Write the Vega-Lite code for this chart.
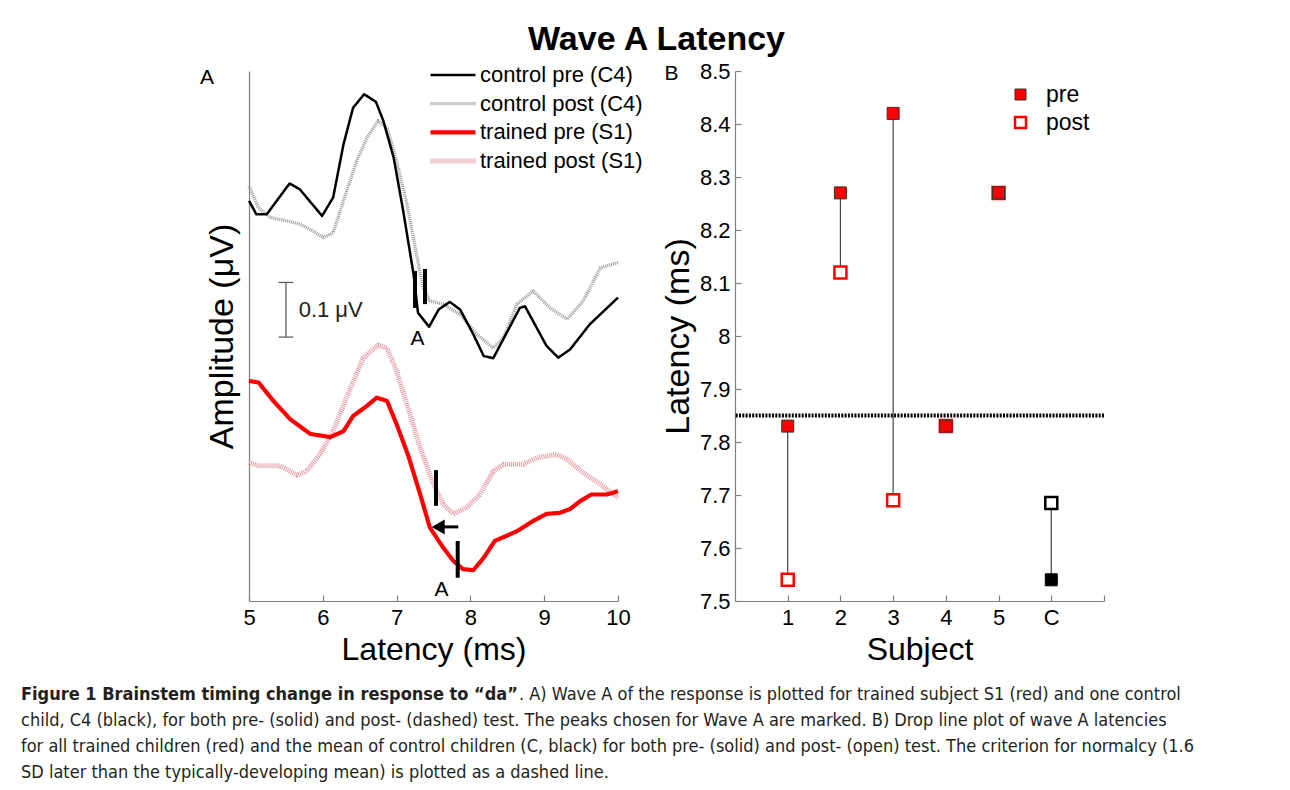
{
  "$schema": "https://vega.github.io/schema/vega-lite/v6.json",
  "background": "white",
  "padding": {"left": 21, "top": 23, "right": 5, "bottom": 5},
  "title": {"text": "Wave A Latency", "fontSize": 34, "fontWeight": "bold", "font": "Liberation Sans", "color": "black", "anchor": "middle", "offset": 3, "dx": 49},
  "columns": 2,
  "align": "none",
  "bounds": "flush",
  "spacing": {"row": 81, "column": 117},
  "resolve": {
    "scale": {"color": "independent", "fill": "independent", "stroke": "independent", "strokeWidth": "independent", "strokeDash": "independent"},
    "legend": {"color": "independent", "fill": "independent", "stroke": "independent", "strokeWidth": "independent", "strokeDash": "independent"}
  },
  "datasets": {
    "waves": [
      {"series": "control post (C4)", "t": 5.00, "amp": 0.767},
      {"series": "control post (C4)", "t": 5.13, "amp": 0.727},
      {"series": "control post (C4)", "t": 5.29, "amp": 0.709},
      {"series": "control post (C4)", "t": 5.51, "amp": 0.703},
      {"series": "control post (C4)", "t": 5.69, "amp": 0.697},
      {"series": "control post (C4)", "t": 5.87, "amp": 0.684},
      {"series": "control post (C4)", "t": 6.01, "amp": 0.672},
      {"series": "control post (C4)", "t": 6.14, "amp": 0.681},
      {"series": "control post (C4)", "t": 6.28, "amp": 0.740},
      {"series": "control post (C4)", "t": 6.46, "amp": 0.814},
      {"series": "control post (C4)", "t": 6.60, "amp": 0.857},
      {"series": "control post (C4)", "t": 6.75, "amp": 0.888},
      {"series": "control post (C4)", "t": 6.87, "amp": 0.875},
      {"series": "control post (C4)", "t": 7.00, "amp": 0.814},
      {"series": "control post (C4)", "t": 7.14, "amp": 0.734},
      {"series": "control post (C4)", "t": 7.27, "amp": 0.641},
      {"series": "control post (C4)", "t": 7.36, "amp": 0.579},
      {"series": "control post (C4)", "t": 7.45, "amp": 0.555},
      {"series": "control post (C4)", "t": 7.63, "amp": 0.549},
      {"series": "control post (C4)", "t": 7.86, "amp": 0.530},
      {"series": "control post (C4)", "t": 8.09, "amp": 0.493},
      {"series": "control post (C4)", "t": 8.31, "amp": 0.468},
      {"series": "control post (C4)", "t": 8.45, "amp": 0.487},
      {"series": "control post (C4)", "t": 8.63, "amp": 0.549},
      {"series": "control post (C4)", "t": 8.85, "amp": 0.573},
      {"series": "control post (C4)", "t": 9.08, "amp": 0.542},
      {"series": "control post (C4)", "t": 9.31, "amp": 0.521},
      {"series": "control post (C4)", "t": 9.53, "amp": 0.555},
      {"series": "control post (C4)", "t": 9.76, "amp": 0.616},
      {"series": "control post (C4)", "t": 10.00, "amp": 0.626},
      {"series": "trained post (S1)", "t": 5.00, "amp": 0.256},
      {"series": "trained post (S1)", "t": 5.13, "amp": 0.250},
      {"series": "trained post (S1)", "t": 5.42, "amp": 0.250},
      {"series": "trained post (S1)", "t": 5.65, "amp": 0.233},
      {"series": "trained post (S1)", "t": 5.78, "amp": 0.240},
      {"series": "trained post (S1)", "t": 5.96, "amp": 0.271},
      {"series": "trained post (S1)", "t": 6.14, "amp": 0.314},
      {"series": "trained post (S1)", "t": 6.32, "amp": 0.376},
      {"series": "trained post (S1)", "t": 6.55, "amp": 0.450},
      {"series": "trained post (S1)", "t": 6.75, "amp": 0.473},
      {"series": "trained post (S1)", "t": 6.87, "amp": 0.468},
      {"series": "trained post (S1)", "t": 7.00, "amp": 0.425},
      {"series": "trained post (S1)", "t": 7.14, "amp": 0.364},
      {"series": "trained post (S1)", "t": 7.32, "amp": 0.283},
      {"series": "trained post (S1)", "t": 7.50, "amp": 0.216},
      {"series": "trained post (S1)", "t": 7.63, "amp": 0.179},
      {"series": "trained post (S1)", "t": 7.77, "amp": 0.161},
      {"series": "trained post (S1)", "t": 7.95, "amp": 0.173},
      {"series": "trained post (S1)", "t": 8.13, "amp": 0.197},
      {"series": "trained post (S1)", "t": 8.31, "amp": 0.240},
      {"series": "trained post (S1)", "t": 8.45, "amp": 0.253},
      {"series": "trained post (S1)", "t": 8.72, "amp": 0.253},
      {"series": "trained post (S1)", "t": 8.90, "amp": 0.265},
      {"series": "trained post (S1)", "t": 9.17, "amp": 0.271},
      {"series": "trained post (S1)", "t": 9.31, "amp": 0.262},
      {"series": "trained post (S1)", "t": 9.53, "amp": 0.237},
      {"series": "trained post (S1)", "t": 9.76, "amp": 0.216},
      {"series": "trained post (S1)", "t": 10.00, "amp": 0.191},
      {"series": "control pre (C4)", "t": 5.00, "amp": 0.740},
      {"series": "control pre (C4)", "t": 5.10, "amp": 0.715},
      {"series": "control pre (C4)", "t": 5.24, "amp": 0.715},
      {"series": "control pre (C4)", "t": 5.55, "amp": 0.772},
      {"series": "control pre (C4)", "t": 5.69, "amp": 0.761},
      {"series": "control pre (C4)", "t": 5.99, "amp": 0.712},
      {"series": "control pre (C4)", "t": 6.14, "amp": 0.746},
      {"series": "control pre (C4)", "t": 6.28, "amp": 0.844},
      {"series": "control pre (C4)", "t": 6.41, "amp": 0.912},
      {"series": "control pre (C4)", "t": 6.56, "amp": 0.937},
      {"series": "control pre (C4)", "t": 6.72, "amp": 0.923},
      {"series": "control pre (C4)", "t": 6.82, "amp": 0.888},
      {"series": "control pre (C4)", "t": 6.96, "amp": 0.820},
      {"series": "control pre (C4)", "t": 7.09, "amp": 0.721},
      {"series": "control pre (C4)", "t": 7.23, "amp": 0.604},
      {"series": "control pre (C4)", "t": 7.29, "amp": 0.533},
      {"series": "control pre (C4)", "t": 7.44, "amp": 0.507},
      {"series": "control pre (C4)", "t": 7.57, "amp": 0.539},
      {"series": "control pre (C4)", "t": 7.72, "amp": 0.553},
      {"series": "control pre (C4)", "t": 7.86, "amp": 0.539},
      {"series": "control pre (C4)", "t": 8.04, "amp": 0.493},
      {"series": "control pre (C4)", "t": 8.18, "amp": 0.453},
      {"series": "control pre (C4)", "t": 8.31, "amp": 0.449},
      {"series": "control pre (C4)", "t": 8.67, "amp": 0.542},
      {"series": "control pre (C4)", "t": 8.74, "amp": 0.545},
      {"series": "control pre (C4)", "t": 9.03, "amp": 0.472},
      {"series": "control pre (C4)", "t": 9.19, "amp": 0.450},
      {"series": "control pre (C4)", "t": 9.35, "amp": 0.465},
      {"series": "control pre (C4)", "t": 9.62, "amp": 0.512},
      {"series": "control pre (C4)", "t": 10.00, "amp": 0.561},
      {"series": "trained pre (S1)", "t": 5.00, "amp": 0.407},
      {"series": "trained pre (S1)", "t": 5.13, "amp": 0.404},
      {"series": "trained pre (S1)", "t": 5.33, "amp": 0.370},
      {"series": "trained pre (S1)", "t": 5.56, "amp": 0.336},
      {"series": "trained pre (S1)", "t": 5.83, "amp": 0.309},
      {"series": "trained pre (S1)", "t": 6.10, "amp": 0.303},
      {"series": "trained pre (S1)", "t": 6.28, "amp": 0.314},
      {"series": "trained pre (S1)", "t": 6.41, "amp": 0.342},
      {"series": "trained pre (S1)", "t": 6.60, "amp": 0.361},
      {"series": "trained pre (S1)", "t": 6.73, "amp": 0.376},
      {"series": "trained pre (S1)", "t": 6.87, "amp": 0.370},
      {"series": "trained pre (S1)", "t": 7.00, "amp": 0.327},
      {"series": "trained pre (S1)", "t": 7.16, "amp": 0.268},
      {"series": "trained pre (S1)", "t": 7.32, "amp": 0.197},
      {"series": "trained pre (S1)", "t": 7.45, "amp": 0.136},
      {"series": "trained pre (S1)", "t": 7.63, "amp": 0.099},
      {"series": "trained pre (S1)", "t": 7.77, "amp": 0.074},
      {"series": "trained pre (S1)", "t": 7.90, "amp": 0.059},
      {"series": "trained pre (S1)", "t": 8.04, "amp": 0.057},
      {"series": "trained pre (S1)", "t": 8.18, "amp": 0.080},
      {"series": "trained pre (S1)", "t": 8.33, "amp": 0.111},
      {"series": "trained pre (S1)", "t": 8.63, "amp": 0.129},
      {"series": "trained pre (S1)", "t": 8.85, "amp": 0.148},
      {"series": "trained pre (S1)", "t": 9.03, "amp": 0.161},
      {"series": "trained pre (S1)", "t": 9.21, "amp": 0.163},
      {"series": "trained pre (S1)", "t": 9.35, "amp": 0.170},
      {"series": "trained pre (S1)", "t": 9.49, "amp": 0.185},
      {"series": "trained pre (S1)", "t": 9.64, "amp": 0.197},
      {"series": "trained pre (S1)", "t": 9.85, "amp": 0.197},
      {"series": "trained pre (S1)", "t": 10.00, "amp": 0.203}
    ],
    "latency": [
      {"subject": "1", "order": 1, "group": "trained", "pre": 7.83, "post": 7.54},
      {"subject": "2", "order": 2, "group": "trained", "pre": 8.27, "post": 8.12},
      {"subject": "3", "order": 3, "group": "trained", "pre": 8.42, "post": 7.69},
      {"subject": "4", "order": 4, "group": "trained", "pre": 7.83, "post": 7.83},
      {"subject": "5", "order": 5, "group": "trained", "pre": 8.27, "post": 8.27},
      {"subject": "C", "order": 6, "group": "control", "pre": 7.54, "post": 7.685}
    ],
    "caption": [
      {"line": 1, "part": "bold", "text": "Figure 1 Brainstem timing change in response to “da”"},
      {"line": 1, "part": "rest", "text": ". A) Wave A of the response is plotted for trained subject S1 (red) and one control"},
      {"line": 2, "part": "body", "text": "child, C4 (black), for both pre- (solid) and post- (dashed) test. The peaks chosen for Wave A are marked. B) Drop line plot of wave A latencies"},
      {"line": 3, "part": "body", "text": "for all trained children (red) and the mean of control children (C, black) for both pre- (solid) and post- (open) test. The criterion for normalcy (1.6"},
      {"line": 4, "part": "body", "text": "SD later than the typically-developing mean) is plotted as a dashed line."}
    ]
  },
  "concat": [
    {
      "width": 369,
      "height": 530,
      "title": {"text": "A", "anchor": "start", "fontSize": 21, "fontWeight": "normal", "font": "Liberation Sans", "color": "black", "dx": -5, "dy": 28},
      "layer": [
        {
          "data": {"name": "waves"},
          "mark": {"type": "line", "strokeCap": "butt", "strokeJoin": "round"},
          "encoding": {
            "x": {"field": "t", "type": "quantitative", "scale": {"domain": [5, 10], "nice": false},
              "axis": {"title": "Latency (ms)", "values": [5, 6, 7, 8, 9, 10], "format": "d", "tickSize": -6, "labelPadding": 12, "labelFlush": false, "titlePadding": 6}},
            "y": {"field": "amp", "type": "quantitative", "scale": {"domain": [0, 0.98], "nice": false, "zero": false},
              "axis": {"title": "Amplitude (μV)", "labels": false, "ticks": false, "titlePadding": 10, "titleFontSize": 34}},
            "color": {"field": "series", "type": "nominal",
              "scale": {"domain": ["control pre (C4)", "control post (C4)", "trained pre (S1)", "trained post (S1)"], "range": ["#000000", "#9a9a9a", "#ff0000", "#e79aa2"]},
              "legend": {"orient": "none", "legendX": 179, "legendY": -7, "title": null, "symbolType": "stroke", "symbolSize": 2025, "clipHeight": 22, "rowPadding": 6.7, "labelFontSize": 22, "labelOffset": 2, "labelLimit": 400, "labelColor": "black", "labelFont": "Liberation Sans",
                "encode": {"symbols": {"update": {
                  "strokeDash": {"signal": "indexof(datum.value, 'post') >= 0 ? [1, 1] : [1, 0]"},
                  "strokeWidth": {"signal": "indexof(datum.value, 'post') >= 0 ? 5 : 2.5"}
                }}}}},
            "strokeDash": {"field": "series", "type": "nominal",
              "scale": {"domain": ["control pre (C4)", "control post (C4)", "trained pre (S1)", "trained post (S1)"], "range": [[1, 0], [1, 1], [1, 0], [1, 1]]}},
            "strokeWidth": {"field": "series", "type": "nominal",
              "scale": {"domain": ["control pre (C4)", "control post (C4)", "trained pre (S1)", "trained post (S1)"], "range": [2.5, 5, 2.5, 5]}}
          }
        },
        {
          "data": {"values": [
            {"t": 7.249, "a1": 0.610, "a2": 0.542},
            {"t": 7.385, "a1": 0.614, "a2": 0.549},
            {"t": 7.534, "a1": 0.242, "a2": 0.176},
            {"t": 7.828, "a1": 0.111, "a2": 0.043}
          ]},
          "mark": {"type": "rule", "color": "black", "strokeWidth": 4},
          "encoding": {"x": {"field": "t", "type": "quantitative"}, "y": {"field": "a1", "type": "quantitative"}, "y2": {"field": "a2"}}
        },
        {
          "data": {"values": [{"t1": 7.564, "t2": 7.836, "a": 0.137}]},
          "mark": {"type": "rule", "color": "black", "strokeWidth": 3},
          "encoding": {"x": {"field": "t1", "type": "quantitative"}, "x2": {"field": "t2"}, "y": {"field": "a", "type": "quantitative"}}
        },
        {
          "data": {"values": [{"t1": 7.564, "a": 0.137}]},
          "mark": {"type": "point", "shape": "triangle-left", "filled": true, "color": "black", "size": 225, "opacity": 1},
          "encoding": {"x": {"field": "t1", "type": "quantitative"}, "y": {"field": "a", "type": "quantitative"}}
        },
        {
          "data": {"values": [{"t": 7.283, "a": 0.484, "label": "A"}, {"t": 7.608, "a": 0.021, "label": "A"}]},
          "mark": {"type": "text", "fontSize": 21, "font": "Liberation Sans", "color": "black", "align": "center", "baseline": "middle"},
          "encoding": {"x": {"field": "t", "type": "quantitative"}, "y": {"field": "a", "type": "quantitative"}, "text": {"field": "label"}}
        },
        {
          "data": {"values": [{"t": 5.501, "a1": 0.488, "a2": 0.589}]},
          "mark": {"type": "rule", "color": "#555555", "strokeWidth": 1.2},
          "encoding": {"x": {"field": "t", "type": "quantitative"}, "y": {"field": "a1", "type": "quantitative"}, "y2": {"field": "a2"}}
        },
        {
          "data": {"values": [{"t1": 5.402, "t2": 5.600, "a": 0.488}, {"t1": 5.402, "t2": 5.600, "a": 0.589}]},
          "mark": {"type": "rule", "color": "#555555", "strokeWidth": 1.2},
          "encoding": {"x": {"field": "t1", "type": "quantitative"}, "x2": {"field": "t2"}, "y": {"field": "a", "type": "quantitative"}}
        },
        {
          "data": {"values": [{"t": 5.673, "a": 0.539, "label": "0.1 μV"}]},
          "mark": {"type": "text", "fontSize": 22, "font": "Liberation Sans", "color": "#222222", "align": "left", "baseline": "middle"},
          "encoding": {"x": {"field": "t", "type": "quantitative"}, "y": {"field": "a", "type": "quantitative"}, "text": {"field": "label"}}
        }
      ]
    },
    {
      "width": 369,
      "height": 530,
      "title": {"text": "B", "anchor": "start", "fontSize": 21, "fontWeight": "normal", "font": "Liberation Sans", "color": "black", "dx": 3, "dy": 28},
      "layer": [
        {
          "data": {"values": [{"criterion": 7.85}]},
          "mark": {"type": "rule", "color": "black", "strokeWidth": 4, "strokeDash": [2, 1.3]},
          "encoding": {
            "y": {"field": "criterion", "type": "quantitative", "scale": {"domain": [7.5, 8.5], "nice": false, "zero": false},
              "axis": {"title": "Latency (ms)", "values": [7.5, 7.6, 7.7, 7.8, 7.9, 8, 8.1, 8.2, 8.3, 8.4, 8.5], "format": "~g", "tickSize": -6, "labelPadding": 11, "labelFlush": false, "titlePadding": 4, "titleFontSize": 34}}
          }
        },
        {
          "data": {"name": "latency"},
          "mark": {"type": "rule", "color": "#444444", "strokeWidth": 1.2},
          "encoding": {
            "x": {"field": "order", "type": "quantitative", "scale": {"domain": [0, 7], "nice": false, "zero": false},
              "axis": {"title": "Subject", "values": [1, 2, 3, 4, 5, 6, 7], "format": "d", "labelExpr": "datum.value == 6 ? 'C' : (datum.value == 7 ? '' : datum.label)", "tickSize": -6, "labelPadding": 12, "labelFlush": false, "titlePadding": 6}},
            "y": {"field": "pre", "type": "quantitative", "scale": {"domain": [7.5, 8.5], "nice": false, "zero": false}},
            "y2": {"field": "post"}
          }
        },
        {
          "data": {"name": "latency"},
          "transform": [{"filter": "datum.group === 'trained'"}, {"fold": ["post", "pre"], "as": ["test", "latency"]}],
          "mark": {"type": "square", "size": 144, "opacity": 1},
          "encoding": {
            "x": {"field": "order", "type": "quantitative", "scale": {"domain": [0, 7], "nice": false, "zero": false}},
            "y": {"field": "latency", "type": "quantitative", "scale": {"domain": [7.5, 8.5], "nice": false, "zero": false}},
            "fill": {"field": "test", "type": "nominal", "scale": {"domain": ["pre", "post"], "range": ["#ff0000", "#ffffff"]},
              "legend": {"orient": "none", "legendX": 274, "legendY": 12, "title": null, "symbolType": "square", "symbolSize": 121, "clipHeight": 23, "rowPadding": 4, "labelFontSize": 23, "labelOffset": 14, "labelColor": "black", "labelFont": "Liberation Sans", "symbolOpacity": 1}},
            "stroke": {"field": "test", "type": "nominal", "scale": {"domain": ["pre", "post"], "range": ["#333333", "#ff0000"]}},
            "strokeWidth": {"field": "test", "type": "nominal", "scale": {"domain": ["pre", "post"], "range": [1, 2.5]}}
          }
        },
        {
          "data": {"name": "latency"},
          "transform": [{"filter": "datum.group === 'control'"}, {"fold": ["post", "pre"], "as": ["test", "latency"]}],
          "mark": {"type": "square", "size": 144, "opacity": 1, "stroke": "black"},
          "encoding": {
            "x": {"field": "order", "type": "quantitative"},
            "y": {"field": "latency", "type": "quantitative"},
            "fill": {"condition": {"test": "datum.test === 'pre'", "value": "black"}, "value": "white"},
            "strokeWidth": {"condition": {"test": "datum.test === 'pre'", "value": 1}, "value": 2.5}
          }
        }
      ]
    },
    {
      "width": 369,
      "height": 104,
      "data": {"name": "caption"},
      "layer": [
        {
          "transform": [{"filter": "datum.part === 'bold'"}],
          "mark": {"type": "text", "align": "left", "baseline": "middle", "fontWeight": "bold", "font": "DejaVu Sans Condensed", "fontSize": 18, "color": "#231f20"},
          "encoding": {
            "x": {"datum": 0, "type": "quantitative", "scale": {"domain": [0, 1257], "range": [-228, 1029], "nice": false, "zero": false}, "axis": null},
            "y": {"field": "line", "type": "quantitative", "scale": {"domain": [0.5, 4.5], "reverse": true, "nice": false, "zero": false}, "axis": null},
            "text": {"field": "text"}
          }
        },
        {
          "transform": [{"filter": "datum.part === 'rest'"}],
          "mark": {"type": "text", "align": "left", "baseline": "middle", "font": "DejaVu Sans Condensed", "fontSize": 18, "color": "#231f20"},
          "encoding": {
            "x": {"datum": 498, "type": "quantitative"},
            "y": {"field": "line", "type": "quantitative"},
            "text": {"field": "text"}
          }
        },
        {
          "transform": [{"filter": "datum.part === 'body'"}],
          "mark": {"type": "text", "align": "left", "baseline": "middle", "font": "DejaVu Sans Condensed", "fontSize": 18, "color": "#231f20"},
          "encoding": {
            "x": {"datum": 0, "type": "quantitative"},
            "y": {"field": "line", "type": "quantitative"},
            "text": {"field": "text"}
          }
        }
      ]
    }
  ],
  "config": {
    "view": {"stroke": null},
    "font": "Liberation Sans",
    "axis": {"domainColor": "#808080", "tickColor": "#808080", "labelColor": "black", "titleColor": "black", "labelFont": "Liberation Sans", "titleFont": "Liberation Sans", "titleFontWeight": "normal", "grid": false, "labelFontSize": 22, "titleFontSize": 32, "domainWidth": 1.2, "tickWidth": 1.2}
  }
}
